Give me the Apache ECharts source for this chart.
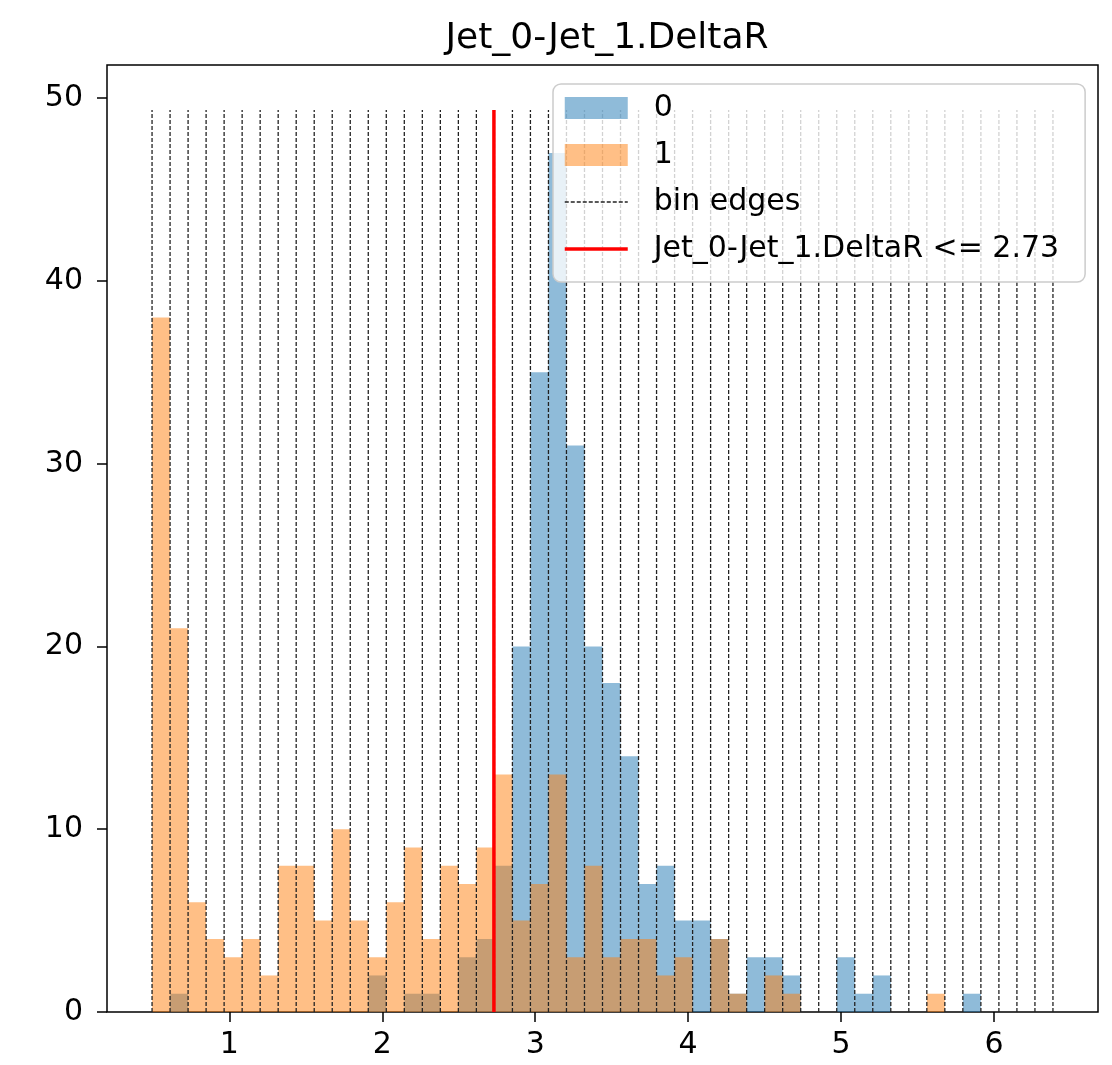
<!DOCTYPE html>
<html>
<head>
<meta charset="utf-8">
<script src="https://cdn.jsdelivr.net/npm/echarts@6/dist/echarts.min.js"></script>
<style>
  html, body { margin: 0; padding: 0; background: #fff; }
  #chart { width: 1112px; height: 1065px; }
</style>
</head>
<body>
<div id="chart"></div>
<script>
// Histogram bins (50 equal bins)
const edgeMin = 0.4945;
const edgeMax = 6.3855;
const binCount = 50;
const threshold = 2.73;

// Counts per bin, class 0 and class 1
const counts0 = [0, 1, 0, 0, 0, 0, 0, 0, 0, 0,
                 0, 0, 2, 0, 1, 1, 0, 3, 4, 8,
                 20, 35, 47, 31, 20, 18, 14, 7, 8, 5,
                 5, 4, 1, 3, 3, 2, 0, 0, 3, 1,
                 2, 0, 0, 0, 0, 1, 0, 0, 0, 0];
const counts1 = [38, 21, 6, 4, 3, 4, 2, 8, 8, 5,
                 10, 5, 3, 6, 9, 4, 8, 7, 9, 13,
                 5, 7, 13, 3, 8, 3, 4, 4, 2, 3,
                 0, 4, 1, 0, 2, 1, 0, 0, 0, 0,
                 0, 0, 0, 1, 0, 0, 0, 0, 0, 0];
const xTicks = [1, 2, 3, 4, 5, 6];
const yTicks = [0, 10, 20, 30, 40, 50];

const binWidth = (edgeMax - edgeMin) / binCount;
const edges = [];
for (let i = 0; i <= binCount; i++) edges.push(edgeMin + i * binWidth);

// matplotlib style limits: 5% margins
const lineTop = Math.max(...counts0, ...counts1) * 1.05;
const yMax = lineTop * 1.05;
const xPad = (edgeMax - edgeMin) * 0.05;

const font = 'DejaVu Sans, Liberation Sans, sans-serif';

const histData = counts => counts.map((c, i) => [edges[i], edges[i + 1], c]);

const edgeLines = [];
for (let e of edges) {
    edgeLines.push([e, 0], [e, lineTop], [e, null]);
}

function renderBin(params, api) {
    const lo = api.coord([api.value(0), 0]);
    const hi = api.coord([api.value(1), api.value(2)]);
    return {
        type: 'rect',
        shape: {x: lo[0], y: hi[1], width: hi[0] - lo[0], height: lo[1] - hi[1]},
        style: {fill: api.visual('color'), opacity: 0.5}
    };
}

const chart = echarts.init(document.getElementById('chart'));
chart.setOption({
    animation: false,
    title: {
        text: 'Jet_0-Jet_1.DeltaR',
        left: 602,
        top: 16,
        textAlign: 'center',
        textStyle: {fontFamily: font, fontSize: 36, fontWeight: 'normal', color: '#000'}
    },
    grid: {
        left: 107, right: 14, top: 65, bottom: 53,
        show: true, borderColor: '#000', borderWidth: 1.5, backgroundColor: 'transparent'
    },
    legend: {
        left: 553,
        top: 84,
        orient: 'vertical',
        itemWidth: 63,
        itemHeight: 22,
        itemGap: 17,
        padding: [9, 26, 18, 10],
        backgroundColor: 'rgba(255,255,255,0.8)',
        borderColor: '#cccccc',
        borderWidth: 1.5,
        borderRadius: 8,
        selectedMode: false,
        textStyle: {fontFamily: font, fontSize: 30, lineHeight: 30, color: '#000', padding: [0, 0, 0, 21]},
        data: [
            {name: '0', icon: 'rect', itemStyle: {color: '#1f77b4', opacity: 0.5}},
            {name: '1', icon: 'rect', itemStyle: {color: '#ff7f0e', opacity: 0.5}},
            {name: 'bin edges', itemStyle: {opacity: 0},
             lineStyle: {color: '#222', width: 1.3, type: [4, 2]}},
            {name: 'Jet_0-Jet_1.DeltaR <= 2.73', itemStyle: {opacity: 0},
             lineStyle: {color: '#ff0000', width: 3.5, type: 'solid'}}
        ]
    },
    xAxis: {
        type: 'value',
        min: edgeMin - xPad,
        max: edgeMax + xPad,
        splitLine: {show: false},
        axisLine: {show: false},
        axisTick: {show: true, length: 10, lineStyle: {color: '#000', width: 1.5}, customValues: xTicks},
        axisLabel: {fontFamily: font, fontSize: 30, color: '#000', margin: 18, customValues: xTicks}
    },
    yAxis: {
        type: 'value',
        min: 0,
        max: yMax,
        splitLine: {show: false},
        axisLine: {show: false},
        axisTick: {show: true, length: 10, lineStyle: {color: '#000', width: 1.5}, customValues: yTicks},
        axisLabel: {fontFamily: font, fontSize: 30, color: '#000', margin: 24, customValues: yTicks}
    },
    series: [
        {
            name: '0',
            type: 'custom',
            renderItem: renderBin,
            itemStyle: {color: '#1f77b4'},
            encode: {x: [0, 1], y: 2},
            data: histData(counts0)
        },
        {
            name: '1',
            type: 'custom',
            renderItem: renderBin,
            itemStyle: {color: '#ff7f0e'},
            encode: {x: [0, 1], y: 2},
            data: histData(counts1)
        },
        {
            name: 'bin edges',
            type: 'line',
            symbol: 'none',
            connectNulls: false,
            lineStyle: {color: '#222', width: 1.3, type: [4, 2]},
            itemStyle: {color: '#222'},
            data: edgeLines
        },
        {
            name: 'Jet_0-Jet_1.DeltaR <= 2.73',
            type: 'line',
            symbol: 'none',
            lineStyle: {color: '#ff0000', width: 3.5},
            itemStyle: {color: '#ff0000'},
            data: [[threshold, 0], [threshold, lineTop]]
        }
    ]
});
</script>
</body>
</html>
